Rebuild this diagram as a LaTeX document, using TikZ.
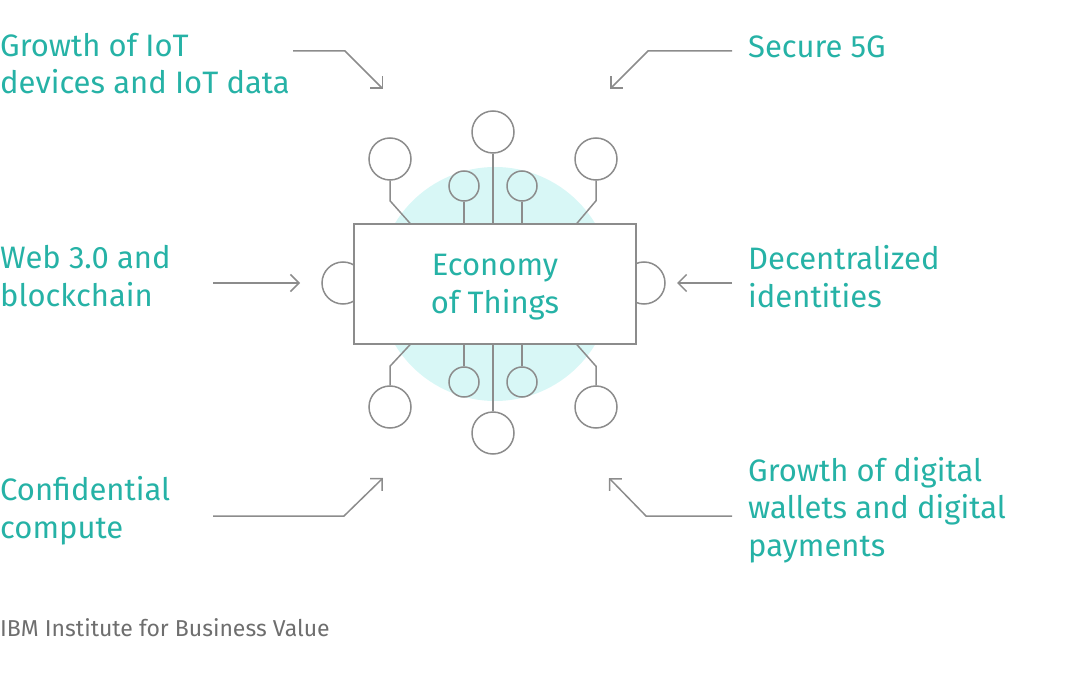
\documentclass[tikz,border=0pt]{standalone}
\usepackage{fontspec}
\setmainfont{Fira Sans}
\usetikzlibrary{arrows.meta,positioning,calc}
\definecolor{teal}{RGB}{38,178,166}
\definecolor{pale}{RGB}{216,247,246}
\definecolor{wire}{RGB}{140,140,140}
\definecolor{foot}{RGB}{110,110,110}
\tikzset{
	wire/.style={draw=wire,line width=1.5pt},
	arr/.style={wire,-{Straight Barb[length=8.5pt,width=17pt,line width=1.5pt]}},
	bigc/.style={wire,circle,minimum size=42pt,inner sep=0pt},
	smallc/.style={wire,circle,minimum size=30pt,inner sep=0pt},
	label/.style={text=teal,font=\fontsize{31}{37.5}\selectfont,align=left,inner sep=0pt,anchor=base west},
}
\begin{document}
\begin{tikzpicture}[x=1pt,y=-1pt]
	\useasboundingbox (0,0) rectangle (1080,674);
	\fill [pale] (495,284) circle (117);
	% circles round the box
	\node[bigc] (tc) at (493,132){};
	\node[bigc] (tl) at (390,159){};
	\node[bigc] (tr) at (596,159){};
	\node[smallc] (tsl) at (464,186){};
	\node[smallc] (tsr) at (522,186){};
	\node[bigc] (bc) at (493,433){};
	\node[bigc] (bl) at (390,407){};
	\node[bigc] (br) at (596,407){};
	\node[smallc] (bsl) at (464,382){};
	\node[smallc] (bsr) at (522,382){};
	\node[bigc] (ml) at (343,283){};
	\node[bigc] (mr) at (644,283){};
	\node[wire,fill=white,minimum width=282pt,minimum height=120pt,text=teal,font=\fontsize{31}{37.5}\selectfont,align=center,text depth=0pt] (eot) at (495,284){Economy\\of Things};
	\draw [wire] (tc) -- (tc|-eot.north) (tsl) -- (tsl|-eot.north) (tsr) -- (tsr|-eot.north);
	\draw [wire] (bc) -- (bc|-eot.south) (bsl) -- (bsl|-eot.south) (bsr) -- (bsr|-eot.south);
	\draw [wire] (tl.south) -- ++(0,20) -- ([xshift=-85pt]eot.north);
	\draw [wire] (tr.south) -- ++(0,20) -- ([xshift=82pt]eot.north);
	\draw [wire] (bl.north) -- ++(0,-19) -- ([xshift=-85pt]eot.south);
	\draw [wire] (br.north) -- ++(0,-19) -- ([xshift=82pt]eot.south);
	% labels, anchored on the last line
	\node[label] (iot) at (0,94){Growth of IoT\\devices and IoT data};
	\node[label] (fiveg) at (748,58){Secure 5G};
	\node[label] (web) at (0,306){Web 3.0 and\\blockchain};
	\node[label] (did) at (748,307){Decentralized\\identities};
	\node[label] (cc) at (0,538){Confidential\\compute};
	\node[label] (wallet) at (748,556){Growth of digital\\wallets and digital\\payments};
	\node[text=foot,font=\fontsize{23}{27}\selectfont,inner sep=0pt,anchor=base west] (ibv) at (0,636){IBM Institute for Business Value};
	% arrows
	\coordinate (a1) at (293,51);
	\coordinate (a2) at (732,51);
	\coordinate (a3) at (213,283);
	\coordinate (a4) at (732,283);
	\coordinate (a5) at (213,516);
	\coordinate (a6) at (732,516);
	\draw [arr] (a1) -- ++(52,0) -- ++(38,38);
	\draw [arr] (a2) -- ++(-84,0) -- ++(-38,38);
	\draw [arr] (a3) -- ++(87,0);
	\draw [arr] (a4) -- ++(-55,0);
	\draw [arr] (a5) -- ++(131,0) -- ++(39,-38);
	\draw [arr] (a6) -- ++(-86,0) -- ++(-37,-38);
\end{tikzpicture}
\end{document}
